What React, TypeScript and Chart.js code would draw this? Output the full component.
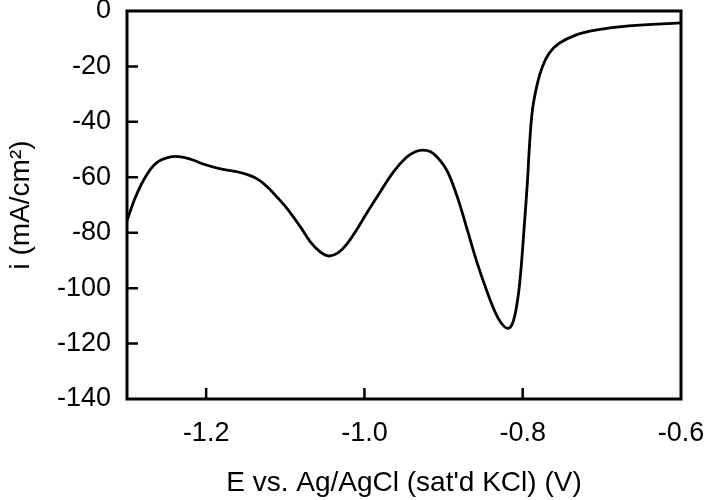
import React, { useEffect, useRef } from "react";
import { Chart, registerables } from "chart.js";

Chart.register(...registerables);

// Potential E (V vs Ag/AgCl)
const potential: number[] = [
  -1.3, -1.2908, -1.2824, -1.274, -1.2657, -1.2572, -1.2447, -1.232, -1.2195,
  -1.2028, -1.1818, -1.1608, -1.145, -1.133, -1.1215, -1.1100, -1.0979, -1.0811,
  -1.0686, -1.056, -1.045, -1.0335, -1.022, -1.010, -0.9972, -0.9805, -0.9638,
  -0.9469, -0.935, -0.926, -0.917, -0.9092, -0.900, -0.8925, -0.881, -0.87, -0.858, -0.846,
  -0.8358, -0.8274, -0.8191, -0.8128, -0.8065, -0.8023, -0.7981, -0.7939,
  -0.7918, -0.7877, -0.7814, -0.7751, -0.7667, -0.7541, -0.7331, -0.708,
  -0.666, -0.6,
];
// Current density i (mA/cm2)
const current: number[] = [
  -75.6, -68.2, -62.8, -58.6, -55.6, -53.8, -52.6, -52.6, -53.5,
  -55.3, -57.0, -58.0, -59.3, -61.0, -63.8, -67.3, -71.2, -77.8,
  -83.2, -86.9, -88.4, -87.3, -84.0, -79.0, -73.0, -65.5, -58.2,
  -52.8, -50.7, -50.2, -50.7, -52.4, -55.6, -59.5, -68.5, -79.0, -90.5, -100.5,
  -108.0, -112.5, -114.5, -112.7, -104.3, -93.5, -77.8, -61.0,
  -50.2, -35.7, -26.1, -20.1, -15.3, -11.7, -8.7, -6.9,
  -5.4, -4.3,
];

const xTickValues: number[] = [-1.2, -1.0, -0.8, -0.6];
const yTickValues: number[] = [0, -20, -40, -60, -80, -100, -120, -140];

const xTitle = "E vs. Ag/AgCl (sat'd KCl) (V)";
const yTitle = "i (mA/cm²)";

const FONT = "'Liberation Sans', Arial, sans-serif";

const framePlugin = {
  id: "frameTicks",
  afterDraw(chart: any) {
    const { ctx, chartArea, scales } = chart;
    const { left, right, top, bottom } = chartArea;
    ctx.save();
    ctx.strokeStyle = "#000";
    ctx.lineWidth = 3;
    ctx.lineCap = "butt";
    ctx.strokeRect(left, top, right - left, bottom - top);
    ctx.beginPath();
    ctx.lineWidth = 2.5;
    for (const v of xTickValues) {
      const px = scales.x.getPixelForValue(v);
      if (px > left + 2 && px < right - 2) {
        ctx.moveTo(px, bottom);
        ctx.lineTo(px, bottom - 11);
      }
    }
    for (const v of yTickValues) {
      const py = scales.y.getPixelForValue(v);
      if (py > top + 2 && py < bottom - 2) {
        ctx.moveTo(left, py);
        ctx.lineTo(left + 11, py);
      }
    }
    ctx.stroke();
    ctx.restore();
  },
};

export default function App() {
  const canvasRef = useRef<HTMLCanvasElement | null>(null);

  useEffect(() => {
    if (!canvasRef.current) return;
    const points = potential.map((e, k) => ({ x: e, y: current[k] }));
    const chart = new Chart(canvasRef.current, {
      type: "scatter",
      data: {
        datasets: [
          {
            data: points,
            showLine: true,
            borderColor: "#000",
            borderWidth: 2.8,
            pointRadius: 0,
            tension: 0.4,
            fill: false,
          },
        ],
      },
      options: {
        responsive: false,
        animation: false,
        devicePixelRatio: 1,
        layout: { padding: { left: 0, right: 24, top: 11, bottom: 0 } },
        plugins: {
          legend: { display: false },
          tooltip: { enabled: false },
        },
        scales: {
          x: {
            type: "linear",
            min: -1.3,
            max: -0.6,
            afterBuildTicks: (scale: any) => {
              scale.ticks = xTickValues.map((v) => ({ value: v }));
            },
            afterFit: (scale: any) => {
              scale.height = 101;
              scale.paddingLeft = 0;
              scale.paddingRight = 0;
            },
            grid: { display: false, drawTicks: false },
            border: { display: false },
            ticks: {
              padding: 18,
              color: "#000",
              font: { family: FONT, size: 27 },
              maxRotation: 0,
              callback: (v: any) => Number(v).toFixed(1),
            },
            title: {
              display: true,
              text: xTitle,
              color: "#000",
              font: { family: FONT, size: 28 },
              padding: { top: 0, bottom: 0 },
            },
          },
          y: {
            type: "linear",
            min: -140,
            max: 0,
            afterBuildTicks: (scale: any) => {
              scale.ticks = yTickValues.map((v) => ({ value: v }));
            },
            afterFit: (scale: any) => {
              scale.width = 127;
              scale.paddingTop = 0;
              scale.paddingBottom = 0;
            },
            grid: { display: false, drawTicks: false },
            border: { display: false },
            ticks: {
              padding: 16,
              color: "#000",
              font: { family: FONT, size: 27 },
              callback: (v: any) => String(v),
            },
            title: {
              display: true,
              text: yTitle,
              color: "#000",
              font: { family: FONT, size: 28 },
              padding: { top: 4, bottom: 0 },
            },
          },
        },
      },
      plugins: [framePlugin],
    } as any);
    return () => chart.destroy();
  }, []);

  return (
    <div style={{ position: "absolute", left: 0, top: 0, width: 705, height: 500, background: "#fff" }}>
      <canvas ref={canvasRef} width={705} height={500} style={{ display: "block" }} />
    </div>
  );
}
